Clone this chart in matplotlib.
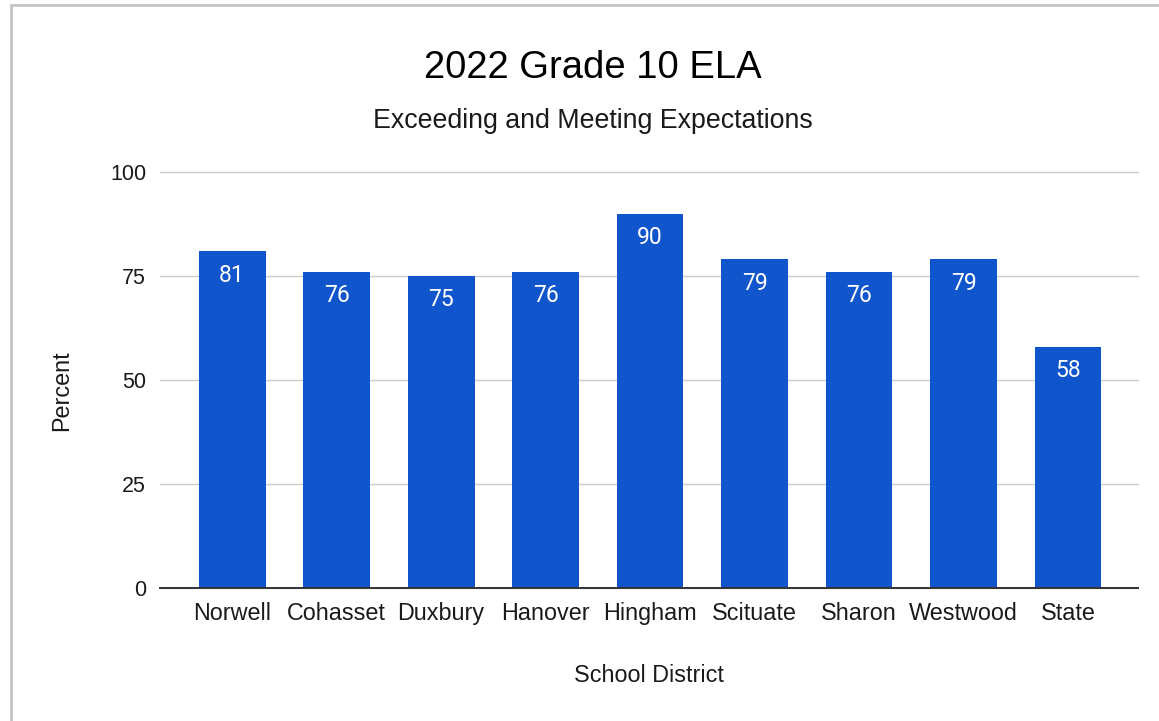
import matplotlib
matplotlib.use("Agg")
import matplotlib.pyplot as plt
from matplotlib.patches import Rectangle

districts = ["Norwell", "Cohasset", "Duxbury", "Hanover", "Hingham",
             "Scituate", "Sharon", "Westwood", "State"]
percent = [81, 76, 75, 76, 90, 79, 76, 79, 58]
y_ticks = [0, 25, 50, 75, 100]

W, H = 1159, 721
fig = plt.figure(figsize=(W / 100, H / 100), dpi=100)
plt.rcParams["font.family"] = ["Liberation Sans", "DejaVu Sans"]

ax = fig.add_axes([160 / W, 1 - 588 / H, (1138 - 160) / W, (588 - 172) / H])

x = range(len(districts))
bars = ax.bar(x, percent, width=0.64, color="#1155cc", zorder=3)

for xi, v in zip(x, percent):
    ax.annotate(str(v), (xi, v), xytext=(0, -9), textcoords="offset points",
                ha="center", va="top", color="white", fontsize=16.5,
                family=["Roboto", "DejaVu Sans"], zorder=4)

ax.set_xlim(-0.69, len(districts) - 1 + 0.67)
ax.set_ylim(0, 100)
ax.set_yticks(y_ticks)
ax.set_xticks(list(x))
ax.set_xticklabels(districts)
ax.tick_params(axis="y", length=0, pad=10, labelsize=15.5, labelcolor="#1a1a1a")
ax.tick_params(axis="x", length=0, pad=10, labelsize=16.8, labelcolor="#1a1a1a")

ax.grid(axis="y", color="#cccccc", linewidth=1, zorder=0)
for s in ["top", "right", "left"]:
    ax.spines[s].set_visible(False)
ax.spines["bottom"].set_color("#333333")
ax.spines["bottom"].set_linewidth(1.4)
ax.spines["bottom"].set_zorder(5)
for line in ax.get_ygridlines():
    line.set_clip_on(False)

fig.text(593 / W, 1 - 78 / H, "2022 Grade 10 ELA", ha="center", va="baseline",
         fontsize=27.5, color="#000000")
fig.text(593 / W, 1 - 128 / H, "Exceeding and Meeting Expectations",
         ha="center", va="baseline", fontsize=19.3, color="#1a1a1a")
fig.text(62 / W, 1 - 391 / H, "Percent", ha="center", va="center",
         rotation=90, fontsize=16.8, color="#1a1a1a")
fig.text(649 / W, 1 - 676 / H, "School District", ha="center", va="center",
         fontsize=16.8, color="#1a1a1a")

# grey frame (only left/top edges visible in the crop)
fig.patches.append(Rectangle((11 / W, -0.1), 1.2, 1 - 5 / H + 0.1,
                             transform=fig.transFigure, fill=False,
                             edgecolor="#c4c4c4", linewidth=2))

fig.savefig("out.png", dpi=100)
